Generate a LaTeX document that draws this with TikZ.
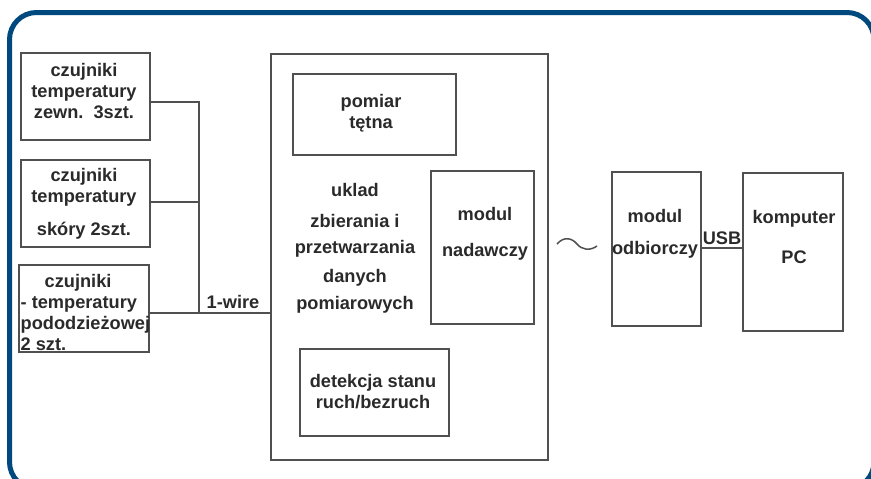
\documentclass[tikz,border=0pt]{standalone}
\usepackage{fontspec}
\setmainfont{Liberation Sans}
\usetikzlibrary{positioning, calc}
\definecolor{ramka}{HTML}{00497F}
\definecolor{kreska}{HTML}{505050}
\definecolor{napis}{HTML}{2A2A2A}

\begin{document}
\begin{tikzpicture}[x=1pt, y=-1pt]
  \newcommand\liniagrub{1.3pt} % grubosc linii blokow
  \newcommand\odstep{21pt}

  \tikzset{blok/.style={draw=kreska, line width=\liniagrub, inner sep=0pt}}
  \tikzset{opis/.style={text=napis, font=\bfseries\fontsize{18.2}{\odstep}\selectfont, align=center, inner sep=0pt}}
  \tikzset{polaczenie/.style={draw=kreska, line width=\liniagrub}}

  \useasboundingbox (0,0) rectangle (871,479);
  \begin{scope}
    \clip (0,0) rectangle (871,479);
    \draw[ramka, line width=5pt, rounded corners=27pt] (9.5,12.5) rectangle (874,489);
  \end{scope}

  % czujniki
  \node[blok, minimum width=129pt, minimum height=87pt] at (85.5,96.5) (zewn) {};
  \node[blok, minimum width=129pt, minimum height=87pt] at (85.5,203.5) (skora) {};
  \node[blok, minimum width=130pt, minimum height=87pt] at (84,308.5) (pod) {};
  \node[opis] at (84,91) (zewn-t) {czujniki\\temperatury\\zewn.\ \ 3szt.};
  \node[opis] at (84,204) (skora-t) {czujniki\\temperatury\\[12pt] skóry 2szt.};
  \node[opis, align=left, anchor=west] at (20.5,312.5) (pod-t) {\hspace*{24pt}czujniki\\- temperatury\\pododzieżowej\\2 szt.};

  % uklad glowny
  \node[blok, minimum width=277pt, minimum height=406pt] at (409.5,257) (uklad) {};
  \node[blok, minimum width=163pt, minimum height=81pt] at (374.5,114.5) (tetno) {};
  \node[blok, minimum width=103pt, minimum height=153pt] at (482.5,247.5) (nad) {};
  \node[blok, minimum width=149pt, minimum height=87pt] at (374.5,392.5) (ruch) {};
  \node[opis] at (355,248.5) (uklad-t) {uklad\\[10pt] zbierania i\\[5pt] przetwarzania\\[8pt] danych\\[6pt] pomiarowych};
  \node[opis] at (371,113.5) (tetno-t) {pomiar\\tętna};
  \node[opis] at (485,234) (nad-t) {modul\\[15pt] nadawczy};
  \node[opis] at (373,391.5) (ruch-t) {detekcja stanu\\ruch/bezruch};

  % odbiornik i komputer
  \node[blok, minimum width=89pt, minimum height=154pt] at (656.5,249) (odb) {};
  \node[blok, minimum width=100pt, minimum height=158pt] at (793,252) (komp) {};
  \node[opis] at (655,234) (odb-t) {modul\\[11pt] odbiorczy};
  \node[opis] at (794,237) (komp-t) {komputer\\[19pt] PC};

  % magistrala 1-wire
  \coordinate (wezelA) at (199,102);
  \coordinate (wezelB) at (199,202);
  \coordinate (wezelC) at (199,313);
  \draw[polaczenie] (wezelA -| zewn.east) -- (wezelA) -- (wezelC);
  \draw[polaczenie] (wezelB -| skora.east) -- (wezelB);
  \draw[polaczenie] (wezelC -| pod.east) -- (wezelC -| uklad.west);
  \node[opis] at (233,302) (wire-t) {1-wire};

  % USB
  \coordinate (usb) at (722,248);
  \draw[polaczenie] (usb -| odb.east) -- (usb -| komp.west);
  \node[opis, above=3pt of usb] (usb-t) {USB};

  % lacze radiowe
  \draw[kreska, line width=1.5pt] (557,244) .. controls (564,236) and (572,238) .. (577,244) .. controls (582,250) and (590,251) .. (597,246);
\end{tikzpicture}
\end{document}
